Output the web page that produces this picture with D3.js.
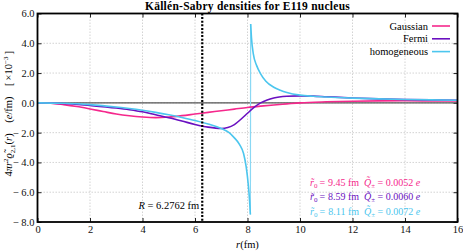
<!DOCTYPE html>
<html>
<head>
<meta charset="utf-8">
<script src="https://cdn.jsdelivr.net/npm/d3@7"></script>
<style>
  body { margin: 0; background: #fff; }
  svg text { font-family: "Liberation Serif", "DejaVu Serif", serif; }
</style>
</head>
<body>
<svg id="chart" width="463" height="251"></svg>
<script>
// values (units of 1e-3 e/fm)
const rGauss = [0, 0.5, 1, 1.5, 2, 2.5, 3, 3.5, 4, 4.5, 5, 5.5, 6, 6.5, 7, 7.5, 8, 8.5, 9, 9.5, 10, 11, 12, 13, 14, 15, 16];
const vGauss = [0, -0.02, -0.12, -0.25, -0.41, -0.58, -0.75, -0.87, -0.95, -0.99, -0.95, -0.86, -0.75, -0.64, -0.53, -0.42, -0.31, -0.22, -0.14, -0.07, 0.0, 0.07, 0.11, 0.13, 0.14, 0.13, 0.12];

const rFermi = [0, 1, 2, 3, 3.5, 4, 4.5, 5, 5.5, 6, 6.5, 7, 7.25, 7.5, 7.75, 8, 8.25, 8.5, 8.75, 9, 9.5, 10, 10.5, 11, 12, 13, 14, 15, 16];
const vFermi = [0, -0.04, -0.18, -0.35, -0.46, -0.6, -0.8, -1.0, -1.22, -1.45, -1.63, -1.72, -1.66, -1.46, -1.1, -0.7, -0.3, 0.0, 0.2, 0.33, 0.44, 0.47, 0.45, 0.41, 0.33, 0.27, 0.23, 0.2, 0.18];

// homogeneous: two branches around the singularity at r0 = 8.11 fm
const rHomLeft = [0, 1, 2, 3, 3.5, 4, 4.5, 5, 5.5, 6, 6.5, 7, 7.3, 7.5, 7.7, 7.85, 7.95, 8.03, 8.08, 8.11];
const vHomLeft = [0, -0.03, -0.12, -0.28, -0.38, -0.5, -0.64, -0.8, -0.98, -1.18, -1.42, -1.72, -2.0, -2.35, -2.8, -3.4, -4.3, -5.5, -6.6, -7.5];
const rHomRight = [8.12, 8.15, 8.22, 8.35, 8.5, 8.7, 9, 9.25, 9.5, 10, 10.5, 11, 12, 13, 14, 15, 16];
const vHomRight = [5.3, 4.4, 3.3, 2.5, 1.95, 1.45, 1.05, 0.85, 0.7, 0.52, 0.44, 0.39, 0.32, 0.27, 0.23, 0.2, 0.18];

const xTicks = [0, 2, 4, 6, 8, 10, 12, 14, 16];
const yTicks = [6, 4, 2, 0, -2, -4, -6, -8];
const seriesNames = ["Gaussian", "Fermi", "homogeneous"];
const seriesColors = ["#f5288c", "#6a10c0", "#4cc6ee"];
const rZero = ["9.45", "8.59", "8.11"];
const qCharge = ["0.0052", "0.0060", "0.0072"];
const radiusR = 6.2762;

const svg = d3.select("#chart");
const pL = 37.5, pR = 457.5, pT = 13.5, pB = 222;

const x = d3.scaleLinear().domain([0, 16]).range([pL, pR]);
const y = d3.scaleLinear().domain([-8, 6]).range([pB, pT]);

// grid
const grid = svg.append("g").attr("stroke", "#c8c8c8").attr("stroke-width", 0.8).attr("stroke-dasharray", "1.5,1.5");
grid.selectAll(".gx").data(xTicks.slice(1, -1)).join("line")
  .attr("x1", d => x(d)).attr("x2", d => x(d)).attr("y1", pT).attr("y2", pB);
grid.selectAll(".gy").data(yTicks.slice(1, -1)).join("line")
  .attr("y1", d => y(d)).attr("y2", d => y(d)).attr("x1", pL).attr("x2", pR);

// axes (inward ticks on all sides)
const tickLen = 4;
const axB = svg.append("g").attr("transform", `translate(0,${pB})`)
  .call(d3.axisBottom(x).tickValues(xTicks).tickSize(-tickLen).tickPadding(4).tickFormat(d3.format("d")));
const axT = svg.append("g").attr("transform", `translate(0,${pT})`)
  .call(d3.axisTop(x).tickValues(xTicks).tickSize(-tickLen).tickFormat(""));
const fmtY = d => d < 0 ? "\u2212\u2009" + Math.abs(d).toFixed(1) : d.toFixed(1);
const axL = svg.append("g").attr("transform", `translate(${pL},0)`)
  .call(d3.axisLeft(y).tickValues(yTicks).tickSize(-tickLen).tickPadding(3).tickFormat(fmtY));
const axR = svg.append("g").attr("transform", `translate(${pR},0)`)
  .call(d3.axisRight(y).tickValues(yTicks).tickSize(-tickLen).tickFormat(""));
[axB, axT, axL, axR].forEach(a => {
  a.select(".domain").remove();
  a.selectAll(".tick line").attr("stroke", "#222").attr("stroke-width", 1);
  a.selectAll(".tick text").attr("font-size", 10.5).attr("fill", "#111");
});

// zero line
svg.append("line").attr("x1", pL).attr("x2", pR).attr("y1", y(0)).attr("y2", y(0))
  .attr("stroke", "#555").attr("stroke-width", 1.2);

const line = d3.line().x(d => x(d[0])).y(d => y(d[1])).curve(d3.curveMonotoneX);
const pair = (rs, vs) => rs.map((r, i) => [r, vs[i]]);

const curves = [
  [pair(rGauss, vGauss), seriesColors[0]],
  [pair(rFermi, vFermi), seriesColors[1]],
  [pair(rHomLeft, vHomLeft), seriesColors[2]],
  [pair(rHomRight, vHomRight), seriesColors[2]]
];
// vertical jump at the singularity
svg.append("line")
  .attr("x1", x(rHomLeft[rHomLeft.length - 1])).attr("x2", x(rHomRight[0]))
  .attr("y1", y(vHomLeft[vHomLeft.length - 1])).attr("y2", y(vHomRight[0]))
  .attr("stroke", "#8ad8f4").attr("stroke-width", 1.2);
svg.selectAll(".curve").data(curves).join("path")
  .attr("d", d => line(d[0])).attr("fill", "none")
  .attr("stroke", d => d[1]).attr("stroke-width", 1.6);

// R line
svg.append("line").attr("x1", x(radiusR)).attr("x2", x(radiusR)).attr("y1", pT).attr("y2", pB)
  .attr("stroke", "#000").attr("stroke-width", 2.2).attr("stroke-dasharray", "2,1.6");
const rLab = svg.append("text").attr("x", x(radiusR) - 3).attr("y", 209).attr("text-anchor", "end")
  .attr("font-size", 10.5);
rLab.append("tspan").attr("font-style", "italic").text("R");
rLab.append("tspan").text(` = ${radiusR} fm`);

// frame
svg.append("rect").attr("x", pL).attr("y", pT).attr("width", pR - pL).attr("height", pB - pT)
  .attr("fill", "none").attr("stroke", "#000").attr("stroke-width", 1.8);

// title
svg.append("text").attr("x", (pL + pR) / 2).attr("y", 10).attr("text-anchor", "middle")
  .attr("font-size", 11.5).attr("letter-spacing", 0.25).attr("font-weight", "bold")
  .text("Källén-Sabry densities for E119 nucleus");

// x label
const xl = svg.append("text").attr("x", (pL + pR) / 2).attr("y", 248).attr("text-anchor", "middle").attr("font-size", 10.5);
xl.append("tspan").attr("font-style", "italic").text("r");
xl.append("tspan").text("(fm)");

// y label
const yl = svg.append("text").attr("transform", `translate(12,${(pT + pB) / 2 - 4}) rotate(-90)`)
  .attr("text-anchor", "middle").attr("font-size", 10.5);
yl.append("tspan").text("4");
yl.append("tspan").attr("font-style", "italic").text("πr");
yl.append("tspan").attr("font-size", 7).attr("dy", -4).text("2");
yl.append("tspan").attr("font-style", "italic").attr("dy", 4).text("ϱ\u0303");
yl.append("tspan").attr("font-size", 7).attr("dy", 2.5).text("2,1");
yl.append("tspan").attr("dy", -2.5).text("(");
yl.append("tspan").attr("font-style", "italic").text("r");
yl.append("tspan").text(")\u2003(");
yl.append("tspan").attr("font-style", "italic").text("e");
yl.append("tspan").text("/fm)\u2003[\u2009×10");
yl.append("tspan").attr("font-size", 7).attr("dy", -4).text("−3");
yl.append("tspan").attr("dy", 4).text("\u2009]");

// legend
const lg = svg.append("g");
seriesNames.forEach((name, i) => {
  const ly = 26 + i * 12.8;
  lg.append("text").attr("x", 428).attr("y", ly + 3.5).attr("text-anchor", "end")
    .attr("font-size", 10.5).text(name);
  lg.append("line").attr("x1", 432).attr("x2", 450).attr("y1", ly).attr("y2", ly)
    .attr("stroke", seriesColors[i]).attr("stroke-width", 1.6);
});

// r0 / Q annotations
rZero.forEach((rv, i) => {
  const by = 185.5 + i * 14.8;
  const g = svg.append("g").attr("fill", seriesColors[i]).attr("font-size", 10);
  const t1 = g.append("text").attr("x", 310).attr("y", by);
  t1.append("tspan").attr("font-style", "italic").text("r\u0303");
  t1.append("tspan").attr("font-size", 7).attr("dy", 2).text("0");
  t1.append("tspan").attr("dy", -2).text("\u2009=");
  g.append("text").attr("x", 359).attr("y", by).attr("text-anchor", "end").text(`${rv} fm`);
  const t3 = g.append("text").attr("x", 364).attr("y", by);
  t3.append("tspan").attr("font-style", "italic").text("Q\u0303");
  t3.append("tspan").attr("font-size", 7).attr("dy", 2).text("±");
  t3.append("tspan").attr("dy", -2).text(` = ${qCharge[i]} `);
  t3.append("tspan").attr("font-style", "italic").text("e");
});
</script>
</body>
</html>
